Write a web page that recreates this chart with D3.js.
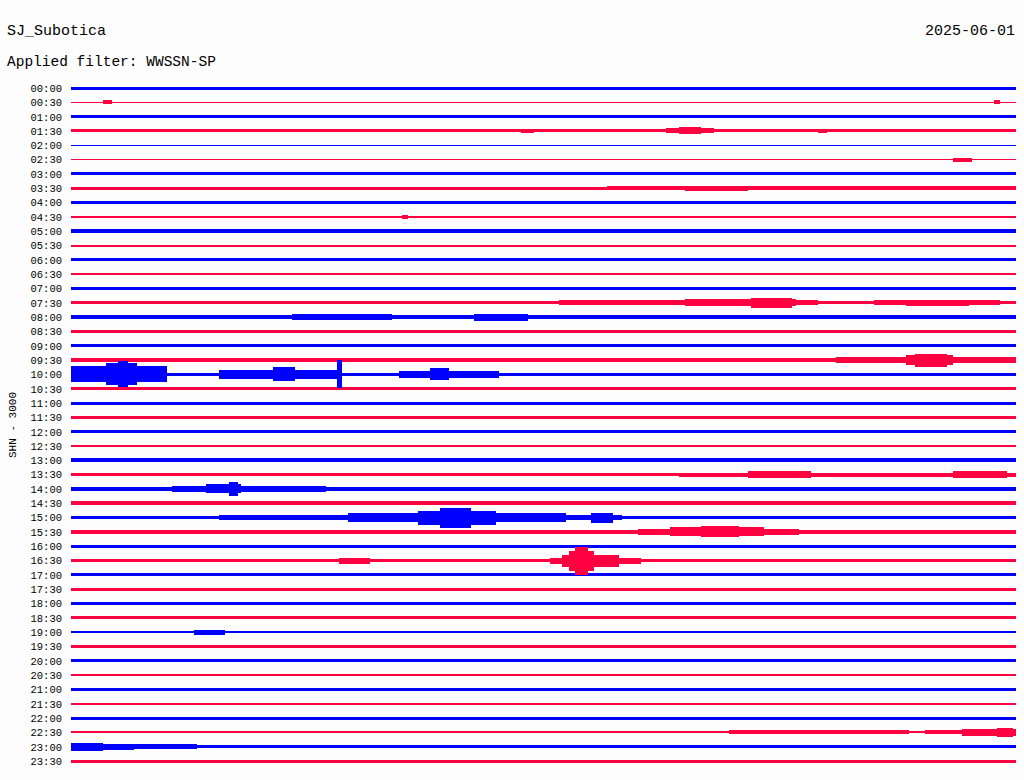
<!DOCTYPE html>
<html><head><meta charset="utf-8">
<script src="https://cdn.jsdelivr.net/npm/d3@7"></script>
<style>
html,body{margin:0;padding:0;background:#fdfdfd;}
svg{display:block;}
text{font-family:"Liberation Mono","DejaVu Sans Mono",monospace;fill:#000;}
</style></head>
<body><svg id="c" width="1024" height="780"></svg>
<script>
// ---- data ----
const station = "SJ_Subotica";
const filterText = "Applied filter: WWSSN-SP";
const dateText = "2025-06-01";
const channelText = "SHN - 3000";
const rowLabels = ["00:00","00:30","01:00","01:30","02:00","02:30","03:00","03:30","04:00","04:30",
 "05:00","05:30","06:00","06:30","07:00","07:30","08:00","08:30","09:00","09:30",
 "10:00","10:30","11:00","11:30","12:00","12:30","13:00","13:30","14:00","14:30",
 "15:00","15:30","16:00","16:30","17:00","17:30","18:00","18:30","19:00","19:30",
 "20:00","20:30","21:00","21:30","22:00","22:30","23:00","23:30"];
// background noise half-amplitude per trace
const baseNoise = [1.5,0.6,1.5,1.5,0.5,0.7,1.5,1.3,1.5,1.0,
 1.8,1.0,1.5,1.0,1.8,1.5,1.8,1.8,1.5,1.8,
 1.5,1.5,1.5,1.8,1.5,1.0,1.8,1.5,1.8,1.8,
 1.8,1.8,1.5,1.8,1.5,1.5,1.8,1.5,1.0,1.8,
 1.5,1.0,1.5,1.0,1.5,1.0,1.5,1.5];
// bursts: [trace index, start minute, end minute, half-amplitude]
const bursts = [
 [1,1.0,1.3,2],[1,29.3,29.5,2],
 [3,14.3,14.7,2],[3,18.9,20.4,2.5],[3,19.3,20.0,3.5],[3,23.7,24.0,2],
 [5,28.0,28.6,2],
 [7,17,30,1.8],[7,19.5,21.5,2.5],
 [9,10.5,10.7,2],
 [15,15.5,23.7,2.5],[15,19.5,23.0,3.5],[15,21.6,22.9,5],[15,25.5,29.5,2.5],[15,26.5,28.5,3],
 [16,0,14.6,2.2],[16,7.0,10.2,3],[16,12.8,14.5,3.5],
 [19,1.5,24.3,2.2],[19,24.3,30,3],[19,26.5,28.0,5],[19,26.8,27.8,6.5],
 [20,0,3.05,8],[20,1.1,2.1,11],[20,1.5,1.8,13],[20,4.7,8.5,4.5],[20,6.4,7.1,7],[20,8.45,8.6,14],
 [20,10.4,13.6,3.5],[20,11.4,12.0,6],
 [27,19.3,30,2],[27,21.5,23.5,3.5],[27,28,29.7,3.5],
 [28,3.2,8.1,3],[28,4.3,5.4,4.5],[28,5.0,5.3,7],
 [30,4.7,17.5,2.5],[30,8.8,15.7,4.5],[30,11.0,13.5,7],[30,11.7,12.7,10],[30,16.5,17.2,5],
 [31,18.0,23.1,3],[31,19.0,22.0,4.5],[31,20.0,21.2,5.5],
 [33,8.5,9.5,3],[33,15.2,18.1,3],[33,15.6,17.4,6],[33,15.8,16.6,10],[33,16.0,16.4,14],
 [38,3.9,4.9,2.5],
 [45,20.9,26.6,2],[45,27.1,28.3,2],[45,28.3,30,3.2],[45,29.4,29.9,4.5],
 [46,0,1.0,4],[46,1.0,2.0,3],[46,2.0,4.0,2.2]
];
const traceColors = ["#0000ff","#ff0040"];

// ---- drawing ----
const svg = d3.select("#c");
svg.append("rect").attr("width",1024).attr("height",780).attr("fill","#fdfdfd");
const x = d3.scaleLinear().domain([0,30]).range([71,1016]);
const y = d3.scalePoint().domain(rowLabels).range([88,761]);
const amp = d3.scaleLinear().domain([0,10]).range([0,10]);

svg.append("text").attr("x",7).attr("y",35).attr("font-size",15).text(station);
svg.append("text").attr("x",7).attr("y",66).attr("font-size",14.5).text(filterText);
svg.append("text").attr("x",1015).attr("y",35).attr("font-size",15).attr("text-anchor","end").text(dateText);
svg.append("text").attr("transform","translate(16,425) rotate(-90)").attr("font-size",11)
  .attr("text-anchor","middle").text(channelText);

const axis = d3.axisLeft(y).tickSize(0).tickPadding(9);
const ag = svg.append("g").attr("transform","translate(71,0)").call(axis);
ag.select(".domain").remove();
ag.selectAll("text").attr("font-size",10.5).attr("font-family","Liberation Mono, DejaVu Sans Mono, monospace").attr("fill","#000");

const g = svg.append("g").attr("shape-rendering","crispEdges");
g.selectAll("rect.base").data(rowLabels).join("rect").attr("class","base")
  .attr("x",x(0)).attr("width",x(30)-x(0))
  .attr("y",(d,i)=>y(d)-amp(baseNoise[i]))
  .attr("height",(d,i)=>Math.max(1,2*amp(baseNoise[i])))
  .attr("fill",(d,i)=>traceColors[i%2]);
g.selectAll("rect.burst").data(bursts).join("rect").attr("class","burst")
  .attr("x",d=>x(d[1])).attr("width",d=>x(d[2])-x(d[1]))
  .attr("y",d=>y(rowLabels[d[0]])-amp(d[3]))
  .attr("height",d=>2*amp(d[3]))
  .attr("fill",d=>traceColors[d[0]%2]);
</script></body></html>
